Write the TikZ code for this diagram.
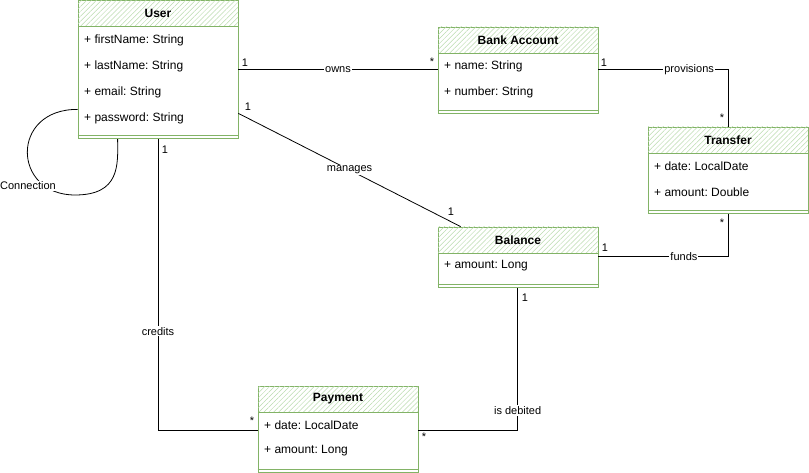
\documentclass[tikz,border=0pt]{standalone}
\usepackage{fontspec}
\setmainfont{Liberation Sans}
\usetikzlibrary{positioning,calc,patterns.meta}
\definecolor{umlgreen}{RGB}{130,179,102}
\definecolor{hatchgreen}{RGB}{186,219,174}
\frenchspacing

\begin{document}
\begin{tikzpicture}[x=1pt, y=-1pt,
    classhead/.style={rectangle, draw=umlgreen, thick, minimum width=160pt, minimum height=26pt, inner sep=0pt, font=\fontsize{12}{14}\selectfont\bfseries, postaction={pattern={Lines[angle=45,distance=3.5pt,line width=0.5pt]}, pattern color=hatchgreen}},
    classbody/.style={rectangle, draw=umlgreen, thick, fill=white, minimum width=160pt, inner sep=0pt},
    attr/.style={anchor=west, inner sep=0pt, font=\fontsize{12}{14}\selectfont},
    link/.style={draw=black, line width=0.8pt},
    rel/.style={fill=white, inner sep=1pt, font=\fontsize{11}{13}\selectfont},
    mult/.style={inner sep=0pt, font=\fontsize{11}{13}\selectfont}
]
    \useasboundingbox (0,0) rectangle (809,473);

    % Classes
    \node[classhead] (user) at (158,13) {User};
    \node[classbody, minimum height=112pt, below=0pt of user] (userbody) {};
    \node[attr] (ufirst) at (84,40) {+ firstName: String};
    \node[attr] (ulast) at (84,66) {+ lastName: String};
    \node[attr] (uemail) at (84,92) {+ email: String};
    \node[attr] (upass) at (84,118) {+ password: String};

    \node[classhead] (bank) at (518,40) {Bank Account};
    \node[classbody, minimum height=60pt, below=0pt of bank] (bankbody) {};
    \node[attr] (bname) at (444,66) {+ name: String};
    \node[attr] (bnumber) at (444,92) {+ number: String};

    \node[classhead] (transfer) at (728,140) {Transfer};
    \node[classbody, minimum height=60pt, below=0pt of transfer] (transferbody) {};
    \node[attr] (tdate) at (654,166) {+ date: LocalDate};
    \node[attr] (tamount) at (654,192) {+ amount: Double};

    \node[classhead] (balance) at (518,240) {Balance};
    \node[classbody, minimum height=34pt, below=0pt of balance] (balancebody) {};
    \node[attr] (lamount) at (444,266) {+ amount: Long};

    \node[classhead] (payment) at (338,399) {Payment};
    \node[classbody, minimum height=60pt, below=0pt of payment] (paymentbody) {};
    \node[attr] (pdate) at (264,425) {+ date: LocalDate};
    \node[attr] (pamount) at (264,451) {+ amount: Long};

    % Separators
    \foreach \c in {userbody, bankbody, transferbody, balancebody, paymentbody}
        \draw[umlgreen, thick] ([yshift=4pt]\c.south west) -- ([yshift=4pt]\c.south east);

    % Associations
    \draw[link] ($(userbody.north east)+(0,43)$) -- node[rel] {owns} ($(bankbody.north west)+(0,16)$);
    \draw[link] ($(bankbody.north east)+(0,16)$) -| node[rel, pos=0.35] {provisions} (transfer.north);
    \draw[link] ($(userbody.north east)+(0,87)$) -- node[rel] {manages} ($(balance.north west)+(23,0)$);
    \draw[link] ($(balancebody.north east)+(0,3)$) -| node[rel, pos=0.33] {funds} (transferbody.south);
    \draw[link] ($(balancebody.south west)+(80,0)$) |- node[rel, pos=0.43] {is debited} ($(paymentbody.north east)+(0,18)$);
    \draw[link] (userbody.south) |- node[rel, pos=0.33] {credits} ($(paymentbody.north west)+(0,18)$);

    % Self association
    \draw[link] ($(userbody.north west)+(0,83)$) .. controls (10,109) and (12,195) .. (75,195)
        .. controls (120,195) and (118,165) .. ($(userbody.south west)+(40,0)$);
    \node[rel] (connlabel) at (28,186) {Connection};

    % Multiplicities
    \node[mult] (ownsA) at (245,63) {1};
    \node[mult] (ownsB) at (432,62) {*};
    \node[mult] (provA) at (604,63) {1};
    \node[mult] (provB) at (722,118) {*};
    \node[mult] (manA) at (248,107) {1};
    \node[mult] (manB) at (451,212) {1};
    \node[mult] (fundA) at (605,248) {1};
    \node[mult] (fundB) at (722,223) {*};
    \node[mult] (debA) at (525,298) {1};
    \node[mult] (debB) at (424,437) {*};
    \node[mult] (credA) at (165,150) {1};
    \node[mult] (credB) at (252,421) {*};
\end{tikzpicture}
\end{document}
